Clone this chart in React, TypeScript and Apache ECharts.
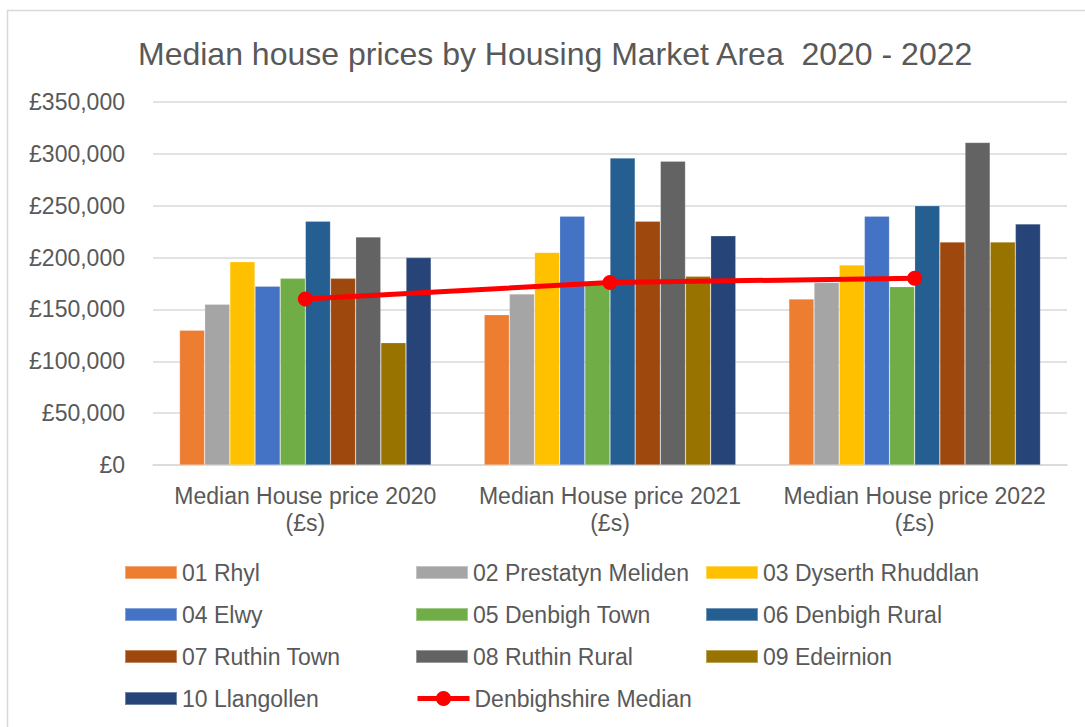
import React, { useEffect, useRef } from "react";
import * as echarts from "echarts";

const categories = [
  "Median House price 2020\n(£s)",
  "Median House price 2021\n(£s)",
  "Median House price 2022\n(£s)",
];
const seriesNames = [
  "01 Rhyl",
  "02 Prestatyn Meliden",
  "03 Dyserth Rhuddlan",
  "04 Elwy",
  "05 Denbigh Town",
  "06 Denbigh Rural",
  "07 Ruthin Town",
  "08 Ruthin Rural",
  "09 Edeirnion",
  "10 Llangollen",
];
const rhyl = [130000, 145000, 160000];
const prestatyn = [155000, 165000, 176000];
const dyserth = [196000, 205000, 193000];
const elwy = [172500, 240000, 240000];
const denbighTown = [180000, 174000, 172000];
const denbighRural = [235000, 296000, 250000];
const ruthinTown = [180000, 235000, 215000];
const ruthinRural = [220000, 293000, 311000];
const edeirnion = [118000, 182000, 215000];
const llangollen = [200000, 221000, 232500];
const medianName = "Denbighshire Median";
const denbighshireMedian = [160000, 176000, 180000];

const barValues = [
  rhyl,
  prestatyn,
  dyserth,
  elwy,
  denbighTown,
  denbighRural,
  ruthinTown,
  ruthinRural,
  edeirnion,
  llangollen,
];
const colors = [
  "#ED7D31",
  "#A5A5A5",
  "#FFC000",
  "#4472C4",
  "#70AD47",
  "#255E91",
  "#9E480E",
  "#636363",
  "#997300",
  "#264478",
];

const FONT = "'Liberation Sans', Arial, sans-serif";
const TEXT = "#595959";

export default function App() {
  const ref = useRef<HTMLDivElement>(null);
  useEffect(() => {
    document.body.style.margin = "0";
    const chart = echarts.init(ref.current!, null, { renderer: "svg" });
    const legendCol = (names: string[], left: number) => ({
      orient: "vertical",
      left,
      top: 561,
      padding: 0,
      itemWidth: 52,
      itemHeight: 13,
      itemGap: 19,
      textStyle: { fontSize: 23, color: TEXT, fontFamily: FONT },
      data: names.map((n) => ({ name: n, icon: "rect" })),
    });
    chart.setOption({
      animation: false,
      textStyle: { fontFamily: FONT },
      graphic: [
        {
          type: "rect",
          shape: { x: 7.5, y: 10.5, width: 1200, height: 900 },
          style: { fill: "none", stroke: "#d9d9d9", lineWidth: 1.5 },
          silent: true,
        },
      ],
      title: {
        text: "Median house prices by Housing Market Area  2020 - 2022",
        left: 133,
        top: 33,
        textStyle: {
          fontSize: 32,
          fontWeight: "normal",
          color: TEXT,
          fontFamily: FONT,
        },
      },
      legend: [
        legendCol([seriesNames[0], seriesNames[3], seriesNames[6], seriesNames[9]], 124),
        legendCol([seriesNames[1], seriesNames[4], seriesNames[7]], 415),
        legendCol([seriesNames[2], seriesNames[5], seriesNames[8]], 705),
        {
          left: 415,
          top: 687,
          padding: 0,
          itemWidth: 52,
          itemHeight: 19,
          textStyle: { fontSize: 23, color: TEXT, fontFamily: FONT },
          data: [
            {
              name: medianName,
              lineStyle: { width: 5, color: "#FF0000" },
              itemStyle: { color: "#FF0000" },
            },
          ],
        },
      ],
      grid: { left: 153, right: 18, top: 102, bottom: 262 },
      xAxis: {
        type: "category",
        data: categories,
        axisTick: { show: false },
        axisLine: { lineStyle: { color: "#d9d9d9", width: 1.5 } },
        axisLabel: {
          interval: 0,
          fontSize: 23,
          color: TEXT,
          lineHeight: 27,
          margin: 17,
          fontFamily: FONT,
        },
      },
      yAxis: {
        type: "value",
        min: 0,
        max: 350000,
        interval: 50000,
        axisLine: { show: false },
        axisTick: { show: false },
        splitLine: { lineStyle: { color: "#d9d9d9", width: 1.5 } },
        axisLabel: {
          fontSize: 23,
          color: TEXT,
          margin: 28,
          fontFamily: FONT,
          formatter: (v: number) =>
            "£" + String(v).replace(/\B(?=(\d{3})+(?!\d))/g, ","),
        },
      },
      series: [
        ...barValues.map((vals, i) => ({
          name: seriesNames[i],
          type: "bar",
          data: vals,
          barGap: "0%",
          barCategoryGap: "17.4%",
          itemStyle: {
            color: colors[i],
            borderColor: "rgba(255,255,255,0.35)",
            borderWidth: 0.6,
          },
        })),
        {
          name: medianName,
          type: "line",
          data: denbighshireMedian,
          symbol: "circle",
          symbolSize: 15,
          lineStyle: { color: "#FF0000", width: 5 },
          itemStyle: { color: "#FF0000" },
          z: 5,
        },
      ],
    });
    return () => chart.dispose();
  }, []);
  return <div ref={ref} style={{ width: 1085, height: 727 }} />;
}
